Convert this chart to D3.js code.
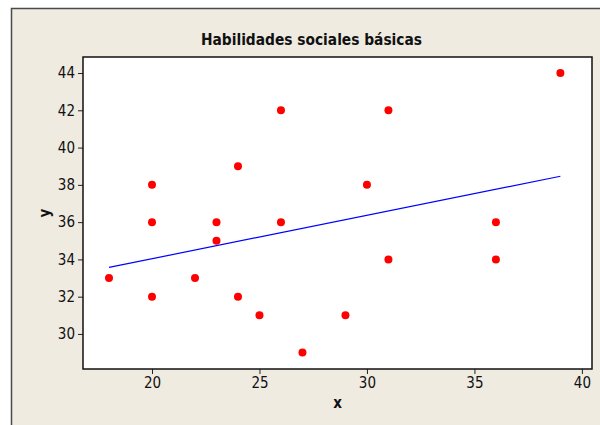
<!DOCTYPE html>
<html>
<head>
<meta charset="utf-8">
<script src="https://cdn.jsdelivr.net/npm/d3@7"></script>
<style>
  body { margin: 0; background: #ffffff; }
  svg text { font-family: "DejaVu Sans Condensed", "Liberation Sans", sans-serif; fill: #111; }
</style>
</head>
<body>
<svg id="chart" width="600" height="425"></svg>
<script>
// Data
const xValues = [18, 20, 20, 20, 22, 23, 23, 24, 24, 25, 26, 26, 27, 29, 30, 31, 31, 36, 36, 39];
const yValues = [33, 38, 36, 32, 33, 36, 35, 39, 32, 31, 42, 36, 29, 31, 38, 42, 34, 36, 34, 44];
const xTicks = [20, 25, 30, 35, 40];
const yTicks = [30, 32, 34, 36, 38, 40, 42, 44];
const chartTitle = 'Habilidades sociales básicas';

const svg = d3.select('#chart');

// Outer frame
svg.append('rect')
    .attr('x', 11.5).attr('y', 8.5)
    .attr('width', 600).attr('height', 430)
    .attr('fill', '#efebe1')
    .attr('stroke', '#4a4a4a')
    .attr('stroke-width', 1.5);

const margin = { top: 57, right: 8, bottom: 56, left: 83 };
const width = 600 - margin.left - margin.right;
const height = 425 - margin.top - margin.bottom;

const g = svg.append('g')
    .attr('transform', `translate(${margin.left},${margin.top})`);

// Scales
const xScale = d3.scaleLinear().domain([16.79, 40.47]).range([0, width]);
const yScale = d3.scaleLinear().domain([28.12, 44.86]).range([height, 0]);

// Plot background
g.append('rect')
    .attr('width', width).attr('height', height)
    .attr('fill', '#ffffff');

// Axes
const xAxis = d3.axisBottom(xScale).tickValues(xTicks).tickSize(5).tickSizeOuter(0).tickPadding(3);
const yAxis = d3.axisLeft(yScale).tickValues(yTicks).tickSize(5).tickSizeOuter(0).tickPadding(3);

const xAxisGroup = g.append('g')
    .attr('transform', `translate(0,${height})`)
    .call(xAxis);
const yAxisGroup = g.append('g').call(yAxis);

[xAxisGroup, yAxisGroup].forEach(ax => {
    ax.attr('font-size', null).attr('font-family', null);
    ax.select('.domain').remove();
    ax.selectAll('line').attr('stroke', '#222');
    ax.selectAll('text')
        .attr('fill', '#111')
        .style('font-size', '15px');
});

// Plot frame
g.append('rect')
    .attr('width', width).attr('height', height)
    .attr('fill', 'none')
    .attr('stroke', '#111')
    .attr('stroke-width', 1.5);

// Regression line
function linearRegression(xs, ys) {
    const n = xs.length;
    const mx = d3.mean(xs), my = d3.mean(ys);
    let sxy = 0, sxx = 0;
    for (let i = 0; i < n; i++) {
        sxy += (xs[i] - mx) * (ys[i] - my);
        sxx += (xs[i] - mx) * (xs[i] - mx);
    }
    const slope = sxy / sxx;
    return { slope, intercept: my - slope * mx };
}
const reg = linearRegression(xValues, yValues);
const xExt = d3.extent(xValues);

g.append('path')
    .datum(xExt)
    .attr('d', d3.line()
        .x(d => xScale(d))
        .y(d => yScale(reg.slope * d + reg.intercept)))
    .attr('fill', 'none')
    .attr('stroke', '#0000ff')
    .attr('stroke-width', 1.2);

// Points
g.selectAll('circle')
    .data(xValues.map((x, i) => ({ x, y: yValues[i] })))
    .enter().append('circle')
    .attr('cx', d => xScale(d.x))
    .attr('cy', d => yScale(d.y))
    .attr('r', 4)
    .attr('fill', '#ff0000');

// Title
svg.append('text')
    .attr('x', 311.5)
    .attr('y', 45)
    .attr('text-anchor', 'middle')
    .style('font-size', '16px')
    .style('font-weight', 'bold')
    .attr('textLength', 221)
    .attr('lengthAdjust', 'spacingAndGlyphs')
    .text(chartTitle);

// Axis labels
svg.append('text')
    .attr('x', margin.left + width / 2)
    .attr('y', 408)
    .attr('text-anchor', 'middle')
    .style('font-size', '15px')
    .style('font-weight', 'bold')
    .text('x');

svg.append('text')
    .attr('transform', 'rotate(-90)')
    .attr('x', -213)
    .attr('y', 50)
    .attr('text-anchor', 'middle')
    .style('font-size', '15px')
    .style('font-weight', 'bold')
    .text('y');
</script>
</body>
</html>
